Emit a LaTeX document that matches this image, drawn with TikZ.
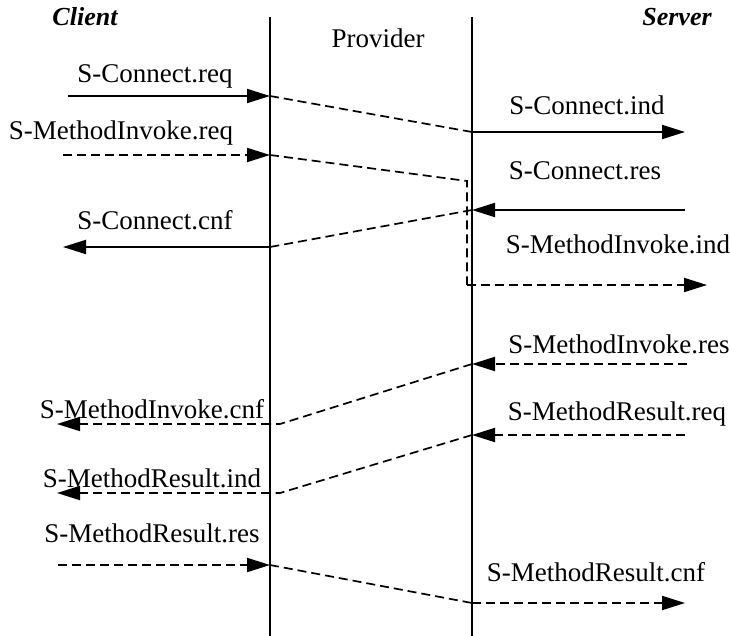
\documentclass[tikz,border=0pt]{standalone}
\usepackage{fontspec}
\setmainfont{Liberation Serif}
\usetikzlibrary{arrows.meta}
\begin{document}
\begin{tikzpicture}[x=1pt,y=-1pt,
  lbl/.style={font=\fontsize{27}{30}\selectfont, inner sep=0pt},
  ttl/.style={font=\fontsize{26}{30}\selectfont\bfseries\itshape, inner sep=0pt},
  msg/.style={line width=2pt, -{Triangle[length=23pt,width=14pt]}},
  dmsg/.style={msg, dash pattern=on 9pt off 5pt},
  link/.style={line width=1.7pt, dash pattern=on 9pt off 5pt},
  life/.style={line width=2.2pt}]
\useasboundingbox (0,0) rectangle (730,636);
% lifelines
\coordinate (Ltop) at (270,17); \coordinate (Lbot) at (270,636);
\coordinate (Rtop) at (472,17); \coordinate (Rbot) at (472,636);
\draw[life] (Ltop) -- (Lbot);
\draw[life] (Rtop) -- (Rbot);
% titles
\node[ttl] (client) at (85,17) {Client};
\node[ttl] (server) at (677,17) {Server};
\node[lbl] (provider) at (378,38) {Provider};
% coordinates
\coordinate (a1) at (68,96);  \coordinate (p1) at (270,96);
\coordinate (s1) at (472,132); \coordinate (e1) at (685,132);
\coordinate (a2) at (63,155); \coordinate (p2) at (270,155);
\coordinate (k1) at (467,181); \coordinate (k2) at (467,285); \coordinate (e3) at (707,285);
\coordinate (e4) at (685,210); \coordinate (s4) at (472,210);
\coordinate (p4) at (270,247); \coordinate (a4) at (63,247);
\coordinate (e5) at (687,364); \coordinate (s5) at (472,364);
\coordinate (q5) at (280,424); \coordinate (p5) at (270,424); \coordinate (a5) at (57,424);
\coordinate (e6) at (685,435); \coordinate (s6) at (472,435);
\coordinate (q6) at (280,493); \coordinate (p6) at (270,493); \coordinate (a6) at (57,493);
\coordinate (a7) at (58,565); \coordinate (p7) at (270,565);
\coordinate (s7) at (472,603); \coordinate (e7) at (685,603);
% messages
\draw[msg] (a1) -- (p1);
\draw[link] (p1) -- (s1);
\draw[msg] (s1) -- (e1);
\draw[dmsg] (a2) -- (p2);
\draw[link] (p2) -- (k1) -- (k2);
\draw[dmsg] (k2) -- (e3);
\draw[msg] (e4) -- (s4);
\draw[link] (s4) -- (p4);
\draw[msg] (p4) -- (a4);
\draw[dmsg] (e5) -- (s5);
\draw[link] (s5) -- (q5) -- (p5);
\draw[dmsg] (p5) -- (a5);
\draw[dmsg] (e6) -- (s6);
\draw[link] (s6) -- (q6) -- (p6);
\draw[dmsg] (p6) -- (a6);
\draw[dmsg] (a7) -- (p7);
\draw[link] (p7) -- (s7);
\draw[dmsg] (s7) -- (e7);
% labels
\node[lbl] (l1) at (155,76) {S-Connect.req};
\node[lbl] (l2) at (587,105) {S-Connect.ind};
\node[lbl] (l3) at (121,133) {S-MethodInvoke.req};
\node[lbl] (l4) at (585,171) {S-Connect.res};
\node[lbl] (l5) at (618,244) {S-MethodInvoke.ind};
\node[lbl] (l6) at (155,220) {S-Connect.cnf};
\node[lbl] (l7) at (619,344) {S-MethodInvoke.res};
\node[lbl] (l8) at (152,409) {S-MethodInvoke.cnf};
\node[lbl] (l9) at (617,414) {S-MethodResult.req};
\node[lbl] (l10) at (152,478) {S-MethodResult.ind};
\node[lbl] (l11) at (152,533) {S-MethodResult.res};
\node[lbl] (l12) at (596,572) {S-MethodResult.cnf};
\end{tikzpicture}
\end{document}
